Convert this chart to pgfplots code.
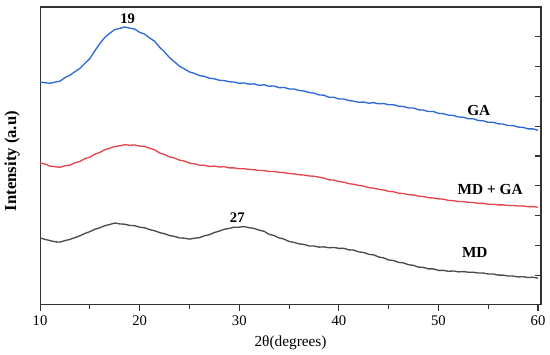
\documentclass[border=0pt]{standalone}
\usepackage{pgfplots}
\pgfplotsset{compat=1.18}
\usepackage{pgfplotstable}
\usepackage{fontspec}
\setmainfont{Liberation Serif}
\definecolor{gablue}{RGB}{45,105,215}
\definecolor{mdgared}{RGB}{228,70,78}
\definecolor{mdgray}{RGB}{75,75,75}
\pgfplotstableread{
x y
10.0 7.48
10.5 7.46
11.0 7.44
11.5 7.48
12.0 7.51
12.5 7.63
13.0 7.71
13.5 7.83
14.0 7.94
14.5 8.11
15.0 8.27
15.5 8.53
16.0 8.77
16.5 8.98
17.0 9.12
17.5 9.24
18.0 9.28
18.5 9.33
19.0 9.29
19.5 9.26
20.0 9.15
20.5 9.09
21.0 8.96
21.5 8.85
22.0 8.65
22.5 8.49
23.0 8.30
23.5 8.16
24.0 8.01
24.5 7.92
25.0 7.82
25.5 7.77
26.0 7.70
26.5 7.67
27.0 7.61
27.5 7.59
28.0 7.54
28.5 7.53
29.0 7.49
29.5 7.48
30.0 7.44
30.5 7.45
31.0 7.41
31.5 7.42
32.0 7.37
32.5 7.39
33.0 7.34
33.5 7.35
34.0 7.29
34.5 7.30
35.0 7.25
35.5 7.25
36.0 7.20
36.5 7.18
37.0 7.13
37.5 7.11
38.0 7.05
38.5 7.04
39.0 6.97
39.5 6.97
40.0 6.91
40.5 6.91
41.0 6.86
41.5 6.84
42.0 6.80
42.5 6.81
43.0 6.77
43.5 6.79
44.0 6.75
44.5 6.76
45.0 6.72
45.5 6.72
46.0 6.67
46.5 6.66
47.0 6.61
47.5 6.61
48.0 6.55
48.5 6.54
49.0 6.49
49.5 6.49
50.0 6.43
50.5 6.42
51.0 6.37
51.5 6.36
52.0 6.31
52.5 6.30
53.0 6.25
53.5 6.25
54.0 6.19
54.5 6.18
55.0 6.13
55.5 6.13
56.0 6.08
56.5 6.07
57.0 6.02
57.5 6.02
58.0 5.97
58.5 5.96
59.0 5.91
59.5 5.91
60.0 5.86
}\GA
\pgfplotstableread{
x y
10.0 4.77
10.5 4.73
11.0 4.66
11.5 4.64
12.0 4.62
12.5 4.67
13.0 4.69
13.5 4.77
14.0 4.82
14.5 4.91
15.0 4.96
15.5 5.06
16.0 5.12
16.5 5.21
17.0 5.26
17.5 5.32
18.0 5.34
18.5 5.38
19.0 5.36
19.5 5.37
20.0 5.33
20.5 5.32
21.0 5.26
21.5 5.21
22.0 5.10
22.5 5.05
23.0 4.97
23.5 4.93
24.0 4.86
24.5 4.83
25.0 4.76
25.5 4.74
26.0 4.69
26.5 4.69
27.0 4.65
27.5 4.66
28.0 4.63
28.5 4.64
29.0 4.60
29.5 4.60
30.0 4.57
30.5 4.57
31.0 4.55
31.5 4.54
32.0 4.51
32.5 4.51
33.0 4.48
33.5 4.48
34.0 4.45
34.5 4.44
35.0 4.41
35.5 4.40
36.0 4.37
36.5 4.36
37.0 4.33
37.5 4.32
38.0 4.29
38.5 4.26
39.0 4.20
39.5 4.19
40.0 4.14
40.5 4.12
41.0 4.07
41.5 4.05
42.0 4.01
42.5 3.99
43.0 3.94
43.5 3.92
44.0 3.88
44.5 3.86
45.0 3.81
45.5 3.80
46.0 3.75
46.5 3.74
47.0 3.70
47.5 3.69
48.0 3.65
48.5 3.64
49.0 3.60
49.5 3.59
50.0 3.56
50.5 3.55
51.0 3.51
51.5 3.50
52.0 3.47
52.5 3.47
53.0 3.44
53.5 3.44
54.0 3.41
54.5 3.41
55.0 3.38
55.5 3.38
56.0 3.36
56.5 3.36
57.0 3.34
57.5 3.34
58.0 3.32
58.5 3.32
59.0 3.30
59.5 3.30
60.0 3.28
}\MDGA
\pgfplotstableread{
x y
10.0 2.25
10.5 2.20
11.0 2.16
11.5 2.12
12.0 2.11
12.5 2.16
13.0 2.20
13.5 2.26
14.0 2.32
14.5 2.40
15.0 2.46
15.5 2.54
16.0 2.59
16.5 2.66
17.0 2.70
17.5 2.75
18.0 2.72
18.5 2.71
19.0 2.67
19.5 2.66
20.0 2.61
20.5 2.59
21.0 2.53
21.5 2.49
22.0 2.43
22.5 2.39
23.0 2.33
23.5 2.30
24.0 2.25
24.5 2.24
25.0 2.21
25.5 2.24
26.0 2.26
26.5 2.32
27.0 2.36
27.5 2.43
28.0 2.48
28.5 2.54
29.0 2.57
29.5 2.61
30.0 2.61
30.5 2.63
31.0 2.59
31.5 2.57
32.0 2.51
32.5 2.47
33.0 2.37
33.5 2.33
34.0 2.25
34.5 2.21
35.0 2.13
35.5 2.10
36.0 2.05
36.5 2.03
37.0 1.98
37.5 1.98
38.0 1.94
38.5 1.95
39.0 1.92
39.5 1.93
40.0 1.90
40.5 1.90
41.0 1.85
41.5 1.84
42.0 1.78
42.5 1.76
43.0 1.70
43.5 1.68
44.0 1.61
44.5 1.58
45.0 1.51
45.5 1.49
46.0 1.43
46.5 1.41
47.0 1.35
47.5 1.33
48.0 1.27
48.5 1.26
49.0 1.21
49.5 1.21
50.0 1.16
50.5 1.16
51.0 1.13
51.5 1.14
52.0 1.11
52.5 1.12
53.0 1.10
53.5 1.10
54.0 1.07
54.5 1.07
55.0 1.04
55.5 1.04
56.0 1.00
56.5 1.00
57.0 0.97
57.5 0.97
58.0 0.94
58.5 0.95
59.0 0.92
59.5 0.93
60.0 0.90
}\MD
\begin{document}
\begin{tikzpicture}
\begin{axis}[
  scale only axis,
  width=375.75pt, height=223.5pt,
  xmin=10, xmax=60.3, ymin=0, ymax=10,
  clip=false,
  axis line style={line width=0.8pt, black!80},
  xtick={10,20,30,40,50,60},
  minor xtick={15,25,35,45,55},
  xtick pos=bottom,
  ytick={1,2,3,4,5,6,7,8,9},
  yticklabels={},
  ytick pos=right,
  y tick label style={overlay},
  tick align=outside,
  major tick length=4.5pt,
  minor tick length=3pt,
  tick style={line width=0.8pt, black!80},
  y tick style={xshift=-4.5pt},
  /pgf/number format/assume math mode=true,
  tick label style={font=\fontsize{11}{13}\selectfont},
  xlabel={2θ(degrees)},
  xlabel style={font=\fontsize{11.5}{13}\selectfont, at={(axis description cs:0.5,0)}, anchor=center, yshift=-28.5pt},
  ylabel={Intensity (a.u)},
  ylabel style={font=\bfseries\fontsize{12.5}{14}\selectfont, at={(axis description cs:-0.056,0.483)}, anchor=center},
]
\addplot[gablue, line width=1pt] table[x=x,y=y] {\GA};
\addplot[mdgared, line width=1pt] table[x=x,y=y] {\MDGA};
\addplot[mdgray, line width=1pt] table[x=x,y=y] {\MD};
\node[font=\bfseries\fontsize{11}{13}\selectfont] at (axis cs:18.8,9.62) {19};
\node[font=\bfseries\fontsize{11}{13}\selectfont] at (axis cs:29.8,2.92) {27};
\node[font=\bfseries\fontsize{11.5}{13}\selectfont] at (axis cs:54.05,6.53) {GA};
\node[font=\bfseries\fontsize{11.5}{13}\selectfont] at (axis cs:55.2,3.86) {MD + GA};
\node[font=\bfseries\fontsize{11.5}{13}\selectfont] at (axis cs:53.65,1.76) {MD};
\path (rel axis cs:0,0) ++(-30pt,-35.25pt);
\path (rel axis cs:1,1) ++(6.75pt,5.25pt);
\end{axis}
\end{tikzpicture}
\end{document}
